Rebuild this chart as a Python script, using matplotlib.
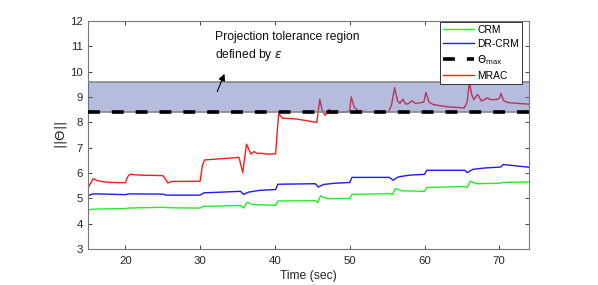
import matplotlib
matplotlib.use('agg')
import matplotlib.pyplot as plt

plt.rcParams['font.family'] = ['Liberation Sans', 'DejaVu Sans']
plt.rcParams['mathtext.fontset'] = 'dejavusans'

# MRAC
t_mrac = [15, 15.7, 16.3, 17, 18, 20, 20.3, 20.6, 22, 25, 25.4, 25.7, 26.2, 27, 30,
          30.3, 30.6, 33, 35.2, 35.7, 36.2, 36.8, 37.2, 37.6, 38.2, 39, 40.1, 40.3,
          40.5, 41, 43, 45.6, 46.0, 46.3, 46.7, 47.0, 47.3, 47.7, 48.2, 48.7, 49.5,
          50.0, 50.2, 50.6, 51.2, 52.5, 55.2, 55.6, 56.0, 56.4, 56.7, 57.1, 57.5,
          57.9, 58.3, 58.8, 59.5, 59.9, 60.2, 60.6, 61.2, 63, 65.3, 65.7, 66.0, 66.3,
          66.6, 67.1, 67.6, 68.0, 68.4, 68.8, 69.6, 70.0, 70.2, 70.6, 71.2, 72.5, 74]
y_mrac = [5.4, 5.78, 5.7, 5.66, 5.63, 5.62, 5.85, 5.95, 5.92, 5.9, 5.75, 5.61, 5.67,
          5.67, 5.68, 6.3, 6.52, 6.57, 6.62, 6.02, 7.14, 6.75, 6.85, 6.78, 6.78, 6.75,
          6.76, 7.6, 8.35, 8.17, 8.13, 8.0, 8.92, 8.5, 8.28, 8.4, 8.52, 8.35, 8.45,
          8.4, 8.42, 8.45, 9.01, 8.6, 8.45, 8.42, 8.42, 8.7, 9.37, 8.85, 8.75, 8.92,
          8.72, 8.75, 8.85, 8.75, 8.78, 8.8, 9.18, 8.8, 8.7, 8.62, 8.57, 8.8, 9.6,
          9.1, 8.9, 9.11, 8.85, 8.9, 8.97, 8.9, 8.9, 8.95, 9.14, 8.85, 8.78, 8.75, 8.72]

# DR-CRM
t_dr = [15, 15.5, 16, 20, 20.5, 25, 25.5, 30, 30.5, 35.4, 35.8, 36.5, 38, 40.1, 40.4,
        45.4, 45.8, 46.5, 48, 50.0, 50.3, 55.3, 55.8, 56.5, 58, 60.0, 60.3, 65.4,
        65.7, 66.5, 68, 70.2, 70.5, 74]
y_dr = [5.1, 5.17, 5.18, 5.15, 5.18, 5.17, 5.13, 5.13, 5.22, 5.28, 5.16, 5.25, 5.32,
        5.35, 5.56, 5.58, 5.45, 5.55, 5.6, 5.63, 5.83, 5.83, 5.72, 5.85, 5.92, 5.95,
        6.11, 6.11, 6.02, 6.15, 6.2, 6.24, 6.34, 6.23]

# CRM
t_crm = [15, 15.5, 16, 20, 20.5, 25, 26, 30, 30.5, 35.4, 35.8, 36.3, 37, 40.1, 40.4,
         45.4, 45.7, 46.1, 47, 50.0, 50.3, 55.4, 55.7, 56.1, 57, 60.0, 60.3, 65.4,
         65.7, 66.1, 67, 70.1, 70.4, 74]
y_crm = [4.53, 4.57, 4.58, 4.6, 4.62, 4.65, 4.63, 4.62, 4.69, 4.72, 4.62, 4.85, 4.76,
         4.73, 4.9, 4.91, 4.83, 5.1, 4.99, 5.0, 5.16, 5.19, 5.15, 5.39, 5.3, 5.28,
         5.43, 5.47, 5.43, 5.68, 5.58, 5.6, 5.63, 5.65]

theta_max = 8.42
band_top = 9.6
x_lim = (15, 74)

fig = plt.figure(figsize=(5.98, 2.85), dpi=100)
ax = fig.add_axes([0.147, 0.126, 0.738, 0.80])

ax.plot(t_crm, y_crm, color='#22ee22', lw=1.0, label='CRM')
ax.plot(t_dr, y_dr, color='#1a1aff', lw=1.0, label='DR-CRM')
ax.plot(x_lim, [theta_max, theta_max], color='black', lw=2.6,
        dashes=(3.3, 3.3), label=r'$\Theta_{\rm max}$', zorder=4)
ax.plot(t_mrac, y_mrac, color='#ff1a1a', lw=1.0, label='MRAC')

ax.fill_between(x_lim, theta_max, band_top, color='#5060b0', alpha=0.42,
                lw=0, zorder=3)
ax.plot(x_lim, [band_top, band_top], color='#888888', lw=1.2, zorder=3)
ax.plot(x_lim, [theta_max, theta_max], color='#888888', lw=1.2, zorder=3)

ax.annotate('', xy=(33.4, 10.02), xytext=(32.15, 9.12),
            arrowprops=dict(arrowstyle='-|>', color='black', lw=0.8,
                            mutation_scale=10))
ax.text(32.0, 10.98, 'Projection tolerance region\ndefined by $\\epsilon$',
        fontsize=8.7, va='center', ha='left', color='#111111', linespacing=1.3)

ax.set_xlim(*x_lim)
ax.set_ylim(3, 12)
ax.set_xticks([20, 30, 40, 50, 60, 70])
ax.set_yticks(range(3, 13))
ax.tick_params(direction='in', top=True, right=True, labelsize=8.2,
               colors='#262626', length=3, width=0.6)
ax.tick_params(axis='x', pad=5)
for s in ax.spines.values():
    s.set_color('#777777')
    s.set_linewidth(0.8)
ax.set_xlabel('Time (sec)', fontsize=8.7, color='#262626', labelpad=3)
ax.set_ylabel(r'$||\Theta||$', fontsize=9.5, color='#262626', labelpad=1)

leg = ax.legend(loc='upper right', bbox_to_anchor=(0.984, 0.997), fontsize=7.4,
                handlelength=3.0, borderaxespad=0, fancybox=False,
                framealpha=1, edgecolor='#333333', borderpad=0.3,
                labelspacing=0.4, handletextpad=0.3)
leg.get_frame().set_linewidth(0.7)
leg.set_zorder(6)

fig.savefig('out.png', dpi=100)
